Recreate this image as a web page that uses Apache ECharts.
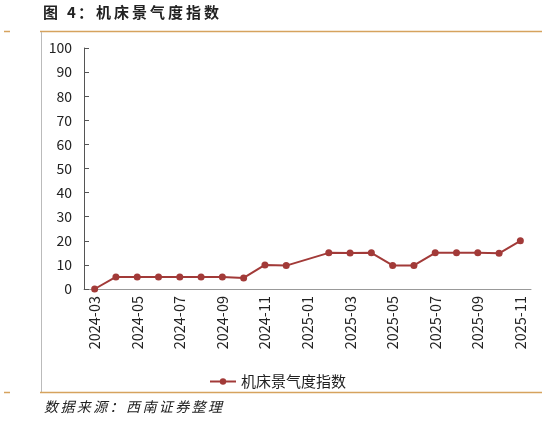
<!DOCTYPE html>
<html>
<head>
<meta charset="utf-8">
<script src="https://cdn.jsdelivr.net/npm/echarts@6/dist/echarts.min.js"></script>
<style>
  html, body { margin: 0; padding: 0; background: #fff; }
  #main { width: 542px; height: 422px; }
</style>
</head>
<body>
<div id="main"></div>
<script>
// 月份
var months = ['2024-03', '2024-04', '2024-05', '2024-06', '2024-07', '2024-08', '2024-09',
    '2024-10', '2024-11', '2024-12', '2025-01', '2025-02', '2025-03', '2025-04', '2025-05',
    '2025-06', '2025-07', '2025-08', '2025-09', '2025-10', '2025-11'];
// 机床景气度指数 (2025-01 无数据)
var indexValues = [0, 5, 5, 5, 5, 5, 5, 4.6, 10, 9.7, null, 15, 14.9, 15, 9.8, 9.8, 15, 15, 15, 14.8, 20];
var yTicks = { min: 0, max: 100, interval: 10 };

var lineColor = '#A23A38';
var frameColor = '#D6A35E';
var cnFont = '"Noto Sans CJK SC", sans-serif';

// 标题和来源的字间距比较宽，逐字摆放
function spacedText(str, x, y, step, font) {
    var items = [];
    var chars = str.split('');
    var cx = x;
    for (var i = 0; i < chars.length; i++) {
        var c = chars[i];
        items.push({ type: 'text', left: cx, top: y, style: { text: c, font: font, fill: '#222' } });
        cx += (c === ' ') ? 6 : (c === '4' ? 11 : step);
    }
    return items;
}

var myChart = echarts.init(document.getElementById('main'));
var graphics = [
    { type: 'line', shape: { x1: 40, y1: 31.5, x2: 542, y2: 31.5 }, style: { stroke: frameColor, lineWidth: 1.5 } },
    { type: 'line', shape: { x1: 4, y1: 31.5, x2: 10, y2: 31.5 }, style: { stroke: frameColor, lineWidth: 1.5 } },
    { type: 'line', shape: { x1: 41.5, y1: 32, x2: 41.5, y2: 392 }, style: { stroke: '#bbb', lineWidth: 1 } },
    { type: 'line', shape: { x1: 40, y1: 392.5, x2: 542, y2: 392.5 }, style: { stroke: frameColor, lineWidth: 1.5 } },
    { type: 'line', shape: { x1: 4, y1: 392.5, x2: 10, y2: 392.5 }, style: { stroke: frameColor, lineWidth: 1.5 } }
];
graphics = graphics.concat(spacedText('图 4：机床景气度指数', 43, 5, 18, 'bold 15px ' + cnFont));
graphics = graphics.concat(spacedText('数据来源：西南证券整理', 44, 400, 16.4, 'italic 14px ' + cnFont));

var option = {
    animation: false,
    backgroundColor: '#fff',
    textStyle: { fontFamily: cnFont },
    graphic: graphics,
    legend: {
        data: ['机床景气度指数'],
        left: 204,
        top: 369,
        itemWidth: 26,
        itemHeight: 8,
        itemGap: 5,
        textStyle: { fontSize: 15, color: '#222', fontFamily: cnFont }
    },
    grid: { left: 84, right: 11, top: 48, bottom: 133, containLabel: false },
    xAxis: {
        type: 'category',
        data: months,
        boundaryGap: true,
        axisLine: { lineStyle: { color: '#999', width: 1 } },
        axisTick: { interval: 1, length: 6, lineStyle: { color: '#999' } },
        axisLabel: { interval: 1, rotate: 90, margin: 7, fontSize: 14.5, color: '#222', fontFamily: cnFont }
    },
    yAxis: {
        type: 'value',
        min: yTicks.min,
        max: yTicks.max,
        interval: yTicks.interval,
        axisLine: { show: true, lineStyle: { color: '#555', width: 1 } },
        axisTick: { show: true, inside: true, length: 5, lineStyle: { color: '#555' } },
        axisLabel: { margin: 12, fontSize: 14, color: '#222', fontFamily: cnFont },
        splitLine: { show: false }
    },
    series: [{
        name: '机床景气度指数',
        type: 'line',
        data: indexValues,
        connectNulls: true,
        symbol: 'circle',
        symbolSize: 7,
        itemStyle: { color: lineColor },
        lineStyle: { color: lineColor, width: 2 }
    }]
};
myChart.setOption(option);
</script>
</body>
</html>
